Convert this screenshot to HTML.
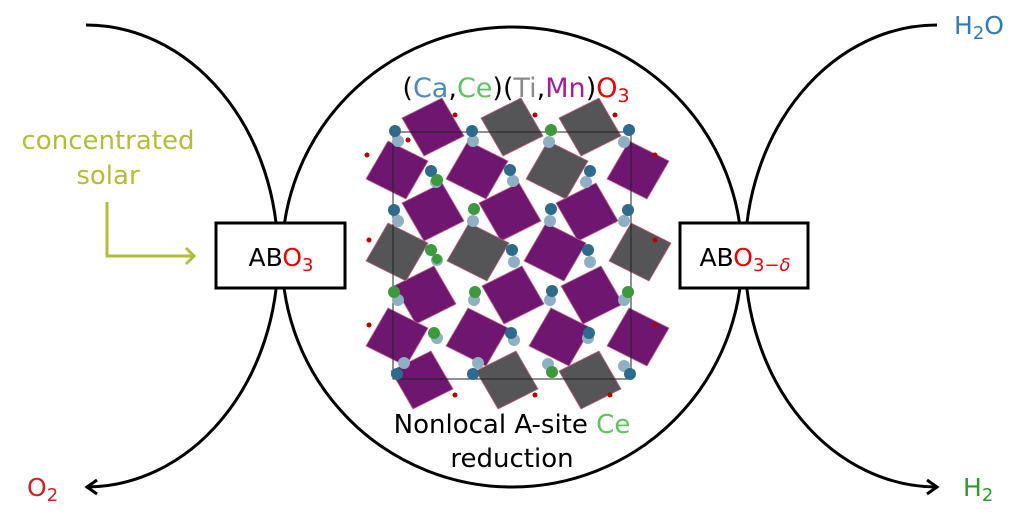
<!DOCTYPE html>
<html><head><meta charset="utf-8"><style>
html,body{margin:0;padding:0;background:#fff;}
svg{display:block;}
text{font-family:"DejaVu Sans","Liberation Sans",sans-serif;}
</style></head><body>
<svg width="1024" height="512" viewBox="0 0 1024 512" xmlns="http://www.w3.org/2000/svg">
<defs>
<polygon id="oct" points="-31,-9 9,-29 31,9 -9,29"/>
<polygon id="oc2" points="-31,9 -9,-29 31,-9 9,29"/>
</defs>
<g fill="none" stroke="#000" stroke-width="3">
<path d="M86,25 A192,231 0 0 1 86,487"/>
<path d="M937,25 A192,231 0 0 0 937,487"/>
<circle cx="512" cy="257" r="230"/>
<path d="M97,480 L87,487 L97,494"/>
<path d="M927,480 L937,487 L927,494"/>
</g>
<g stroke="#c06080" stroke-width="0.8">
<g fill="#6e1670">
<use href="#oct" x="433" y="127"/>
<use href="#oc2" x="397" y="170"/><use href="#oc2" x="477" y="170"/><use href="#oc2" x="638" y="170"/>
<use href="#oct" x="433" y="212"/><use href="#oct" x="510" y="212"/><use href="#oct" x="587" y="212"/>
<use href="#oc2" x="555" y="252"/>
<use href="#oct" x="425" y="295"/><use href="#oct" x="513" y="295"/><use href="#oct" x="592" y="295"/>
<use href="#oc2" x="397" y="337"/><use href="#oc2" x="477" y="337"/><use href="#oc2" x="560" y="337"/><use href="#oc2" x="638" y="337"/>
<use href="#oct" x="422" y="380"/>
</g>
<g fill="#555457">
<use href="#oct" x="512" y="127"/><use href="#oct" x="590" y="127"/>
<use href="#oc2" x="557" y="170"/>
<use href="#oc2" x="397" y="252"/><use href="#oc2" x="478" y="252"/><use href="#oc2" x="640" y="252"/>
<use href="#oct" x="507" y="380"/><use href="#oct" x="590" y="380"/>
</g>
</g>
<rect x="393" y="132" width="238" height="247" fill="none" stroke="#222" stroke-width="1"/>
<g>
<g fill="#8fb0c4">
<circle cx="398" cy="141" r="6"/><circle cx="473" cy="141" r="6"/><circle cx="549" cy="142" r="6"/><circle cx="624" cy="142" r="6"/>
<circle cx="436" cy="182" r="6"/><circle cx="513" cy="181" r="6"/><circle cx="586" cy="182" r="6"/>
<circle cx="398" cy="221" r="6"/><circle cx="473" cy="221" r="6"/><circle cx="550" cy="221" r="6"/><circle cx="624" cy="221" r="6"/>
<circle cx="437" cy="260" r="6"/><circle cx="514" cy="262" r="6"/><circle cx="590" cy="262" r="6"/>
<circle cx="398" cy="300" r="6"/><circle cx="474" cy="300" r="6"/><circle cx="550" cy="300" r="6"/><circle cx="624" cy="300" r="6"/>
<circle cx="437" cy="338" r="6"/><circle cx="514" cy="340" r="6"/><circle cx="588" cy="338" r="6"/>
<circle cx="404" cy="363" r="6"/><circle cx="478" cy="363" r="6"/><circle cx="548" cy="364" r="6"/><circle cx="624" cy="366" r="6"/>
</g>
<g fill="#2e6a8c">
<circle cx="395" cy="131" r="6"/><circle cx="472" cy="131" r="6"/><circle cx="629" cy="130" r="6"/>
<circle cx="431" cy="171" r="6"/><circle cx="510" cy="170" r="6"/><circle cx="590" cy="171" r="6"/>
<circle cx="394" cy="210" r="6"/><circle cx="551" cy="209" r="6"/><circle cx="628" cy="210" r="6"/>
<circle cx="512" cy="250" r="6"/><circle cx="588" cy="250" r="6"/>
<circle cx="552" cy="291" r="6"/>
<circle cx="511" cy="333" r="6"/><circle cx="589" cy="333" r="6"/>
<circle cx="397" cy="374" r="6"/><circle cx="473" cy="374" r="6"/><circle cx="630" cy="374" r="6"/>
</g>
<g fill="#3c9a3c">
<circle cx="551" cy="130" r="6"/><circle cx="437" cy="180" r="6"/><circle cx="474" cy="209" r="6"/>
<circle cx="431" cy="250" r="6"/><circle cx="437" cy="259" r="5"/>
<circle cx="394" cy="292" r="6"/><circle cx="475" cy="292" r="6"/><circle cx="628" cy="292" r="6"/>
<circle cx="434" cy="333" r="6"/><circle cx="552" cy="372" r="6"/>
</g>
</g>
<g fill="#b00">
<circle cx="367" cy="155" r="2.5"/><circle cx="408" cy="140" r="2.5"/>
<circle cx="369" cy="240" r="2.5"/><circle cx="369" cy="325" r="2.5"/><circle cx="655" cy="155" r="2.5"/><circle cx="655" cy="240" r="2.5"/><circle cx="655" cy="325" r="2.5"/>
<circle cx="455" cy="115" r="2.5"/><circle cx="535" cy="115" r="2.5"/><circle cx="615" cy="115" r="2.5"/>
<circle cx="455" cy="395" r="2.5"/><circle cx="535" cy="395" r="2.5"/><circle cx="610" cy="395" r="2.5"/>
</g>
<rect x="216" y="223" width="129" height="65" fill="#fff" stroke="#000" stroke-width="3"/>
<rect x="680" y="223" width="128" height="65" fill="#fff" stroke="#000" stroke-width="3"/>
<text x="281" y="266" font-size="25" text-anchor="middle">AB<tspan fill="#e00">O<tspan font-size="18" dy="5">3</tspan></tspan></text>
<text x="745" y="266" font-size="25" text-anchor="middle">AB<tspan fill="#e00">O<tspan font-size="18" dy="5">3−<tspan font-style="italic">δ</tspan></tspan></tspan></text>
<text x="108" y="149" font-size="26" fill="#b3bd35" text-anchor="middle">concentrated</text>
<text x="108" y="184" font-size="26" fill="#b3bd35" text-anchor="middle">solar</text>
<path d="M107,202 V256 H194 M186,248 L194,256 L186,264" fill="none" stroke="#b3bd35" stroke-width="3"/>
<text x="516" y="97" font-size="27" text-anchor="middle">(<tspan fill="#4a8cb8">Ca</tspan>,<tspan fill="#5ec45e">Ce</tspan>)(<tspan fill="#8a8a8a">Ti</tspan>,<tspan fill="#a0209c">Mn</tspan>)<tspan fill="#e00">O<tspan font-size="19" dy="5">3</tspan></tspan></text>
<text x="512" y="433" font-size="26" text-anchor="middle">Nonlocal A-site <tspan fill="#5ec45e">Ce</tspan></text>
<text x="512" y="467" font-size="26" text-anchor="middle">reduction</text>
<text x="27" y="496" font-size="25" fill="#d42020">O<tspan font-size="18" dy="5">2</tspan></text>
<text x="954" y="34" font-size="25" fill="#2f7db5">H<tspan font-size="18" dy="5">2</tspan><tspan dy="-5">O</tspan></text>
<text x="963" y="496" font-size="25" fill="#2e9a2e">H<tspan font-size="18" dy="5">2</tspan></text>
</svg>
</body></html>
